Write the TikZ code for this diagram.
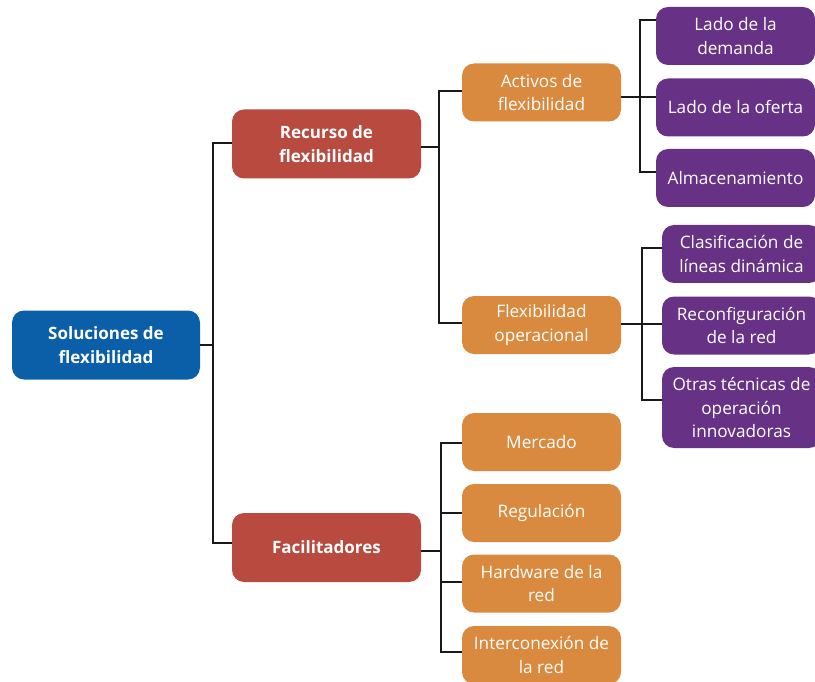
\documentclass[tikz,border=0pt]{standalone}
\usepackage{fontspec}
\setmainfont{Open Sans}
\usetikzlibrary{calc}
\definecolor{rootblue}{HTML}{0A5FA8}
\definecolor{resred}{HTML}{B84A40}
\definecolor{suborange}{HTML}{D98A3E}
\definecolor{leafpurple}{HTML}{673285}
\begin{document}
\begin{tikzpicture}[x=1pt,y=-1pt,
  box/.style={rounded corners=12pt, text=white, align=center, inner sep=0pt,
    font=\fontsize{17.2}{23.5}\selectfont},
  rootbox/.style={box, fill=rootblue, minimum width=188pt, minimum height=69pt,
    font=\bfseries\fontsize{17}{23.5}\selectfont},
  redbox/.style={box, fill=resred, minimum width=189pt, minimum height=69pt,
    font=\bfseries\fontsize{17}{23.5}\selectfont},
  orbox/.style={box, fill=suborange, minimum width=159pt, minimum height=58pt},
  pubox/.style={box, fill=leafpurple, minimum width=159pt, minimum height=58pt},
  link/.style={draw=black!90, line width=1.7pt}
]
\useasboundingbox (0,0) rectangle (815,682);

% root and first level
\node[rootbox] (root) at (106,345) {Soluciones de\\flexibilidad};
\node[redbox] (rec) at (326.5,144) {Recurso de\\flexibilidad};
\node[redbox] (fac) at (326.5,547.5) {Facilitadores};

% second level
\node[orbox] (act) at (541.5,92.5) {Activos de\\flexibilidad};
\node[orbox] (ope) at (541.5,325) {Flexibilidad\\operacional};
\node[orbox] (mer) at (541.5,442) {Mercado};
\node[orbox] (reg) at (541.5,513) {Regulación};
\node[orbox] (hw)  at (541.5,583.5) {Hardware de la\\red};
\node[orbox] (int) at (541.5,655) {Interconexión de\\la red};

% third level
\node[pubox] (dem) at (735.5,36) {Lado de la\\demanda};
\node[pubox] (ofe) at (735.5,107.5) {Lado de la oferta};
\node[pubox] (alm) at (735.5,178) {Almacenamiento};
\node[pubox] (cla) at (741.5,254) {Clasificación de\\líneas dinámica};
\node[pubox] (rcf) at (741.5,325.5) {Reconfiguración\\de la red};
\node[pubox, minimum height=81pt] (otr) at (741.5,407.5) {Otras técnicas de\\operación\\innovadoras};

% connectors: root
\draw[link] (root.east) -- (213,345);
\draw[link] ([yshift=1pt]rec.west) -- ++(-19,0) |- ([yshift=4.5pt]fac.west);

% connectors: resource
\draw[link] ([yshift=-3pt]rec.east) -- (439,147);
\draw[link] ([yshift=1.5pt]act.west) -- ++(-23,0) |- ([yshift=2pt]ope.west);

% connectors: enablers
\draw[link] ([yshift=-3.5pt]fac.east) -- (441,551);
\draw[link] ([yshift=-1pt]mer.west) -- ++(-21,0) |- ([yshift=3pt]int.west);
\draw[link] (reg.west) -- ++(-21,0);
\draw[link] ([yshift=1.5pt]hw.west) -- ++(-21,0);

% connectors: assets
\draw[link] ([yshift=-4.5pt]act.east) -- ([yshift=10.5pt]ofe.west);
\draw[link] ([yshift=16pt]dem.west) -- ++(-16,0) |- ([yshift=6pt]alm.west);

% connectors: operational
\draw[link] ([yshift=1pt]ope.east) -- ([yshift=1.5pt]rcf.west);
\draw[link] ([yshift=6pt]cla.west) -- ++(-20,0) |- ([yshift=7.5pt]otr.west);
\end{tikzpicture}
\end{document}
